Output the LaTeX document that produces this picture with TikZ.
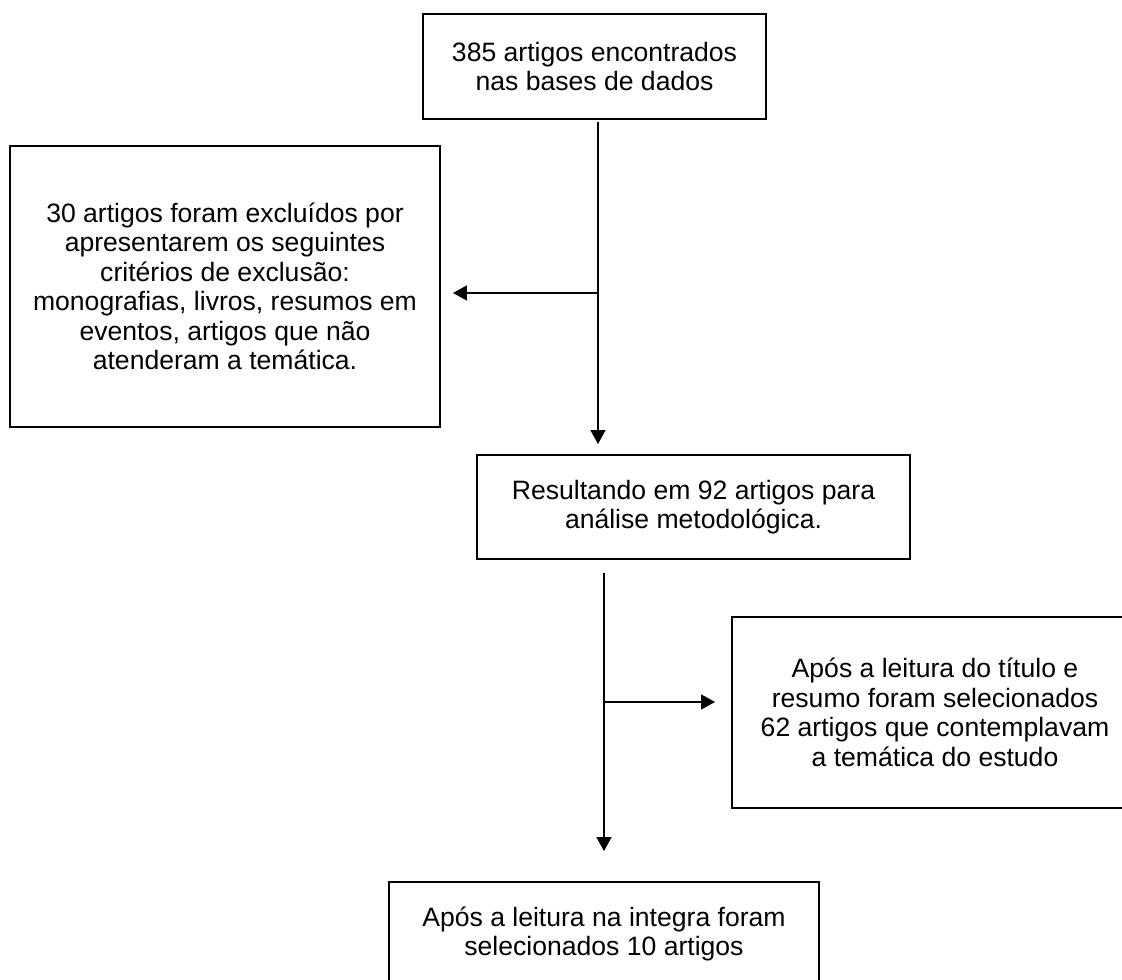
\documentclass[tikz,border=0pt]{standalone}
\usepackage{fontspec}
\setmainfont{Liberation Sans}
\usetikzlibrary{arrows.meta}
\tikzset{
  caixa/.style={draw, line width=0.070cm, inner sep=0pt, outer sep=0pt,
    align=center, font=\fontsize{20}{22.2}\selectfont},
  seta/.style={line width=0.028cm, -{Triangle[length=0.37cm,width=0.40cm]}}
}
\begin{document}
\begin{tikzpicture}
\useasboundingbox (0.000000,0.000000) rectangle (29.686200,25.929200);

% Drawing box of the found articles
\node[caixa, minimum width=9.075200cm, minimum height=2.778100cm] (encontrados) at (15.729500,24.169700)
  {385 artigos encontrados\\nas bases de dados};

% Drawing box of the excluded articles
\node[caixa, minimum width=11.377100cm, minimum height=7.434800cm] (excluidos) at (5.953100,18.348800)
  {30 artigos foram excluídos por\\apresentarem os seguintes\\critérios de exclusão:\\monografias, livros, resumos em\\eventos, artigos que não\\atenderam a temática.};

% Drawing box of the remaining articles
\node[caixa, minimum width=11.456500cm, minimum height=2.751700cm] (resultando) at (18.348800,12.514800)
  {Resultando em 92 artigos para\\análise metodológica.};

% Drawing box of the selection by title and abstract
\node[caixa, minimum width=10.742100cm, minimum height=5.053500cm] (titulo) at (24.738500,7.077600)
  {Após a leitura do título e\\resumo foram selecionados\\62 artigos que contemplavam\\a temática do estudo};

% Drawing box of the final selection
\node[caixa, minimum width=11.377100cm, minimum height=2.751700cm] (integra) at (15.980800,1.217100)
  {Após a leitura na integra foram\\selecionados 10 artigos};

% Marking the branch points
\coordinate (ramo1) at (15.822100,18.176900);
\coordinate (ramo2) at (15.980800,7.355400);

% Drawing the first connector and its branch
\draw[seta, shorten <=0.079cm, shorten >=0.291cm] (ramo1 |- encontrados.south) -- (ramo1 |- resultando.north);
\draw[seta, shorten >=0.344cm] (ramo1) -- (ramo1 -| excluidos.east);

% Drawing the second connector and its branch
\draw[seta, shorten <=0.370cm, shorten >=0.820cm] (ramo2 |- resultando.south) -- (ramo2 |- integra.north);
\draw[seta, shorten >=0.450cm] (ramo2) -- (ramo2 -| titulo.west);
\end{tikzpicture}
\end{document}
